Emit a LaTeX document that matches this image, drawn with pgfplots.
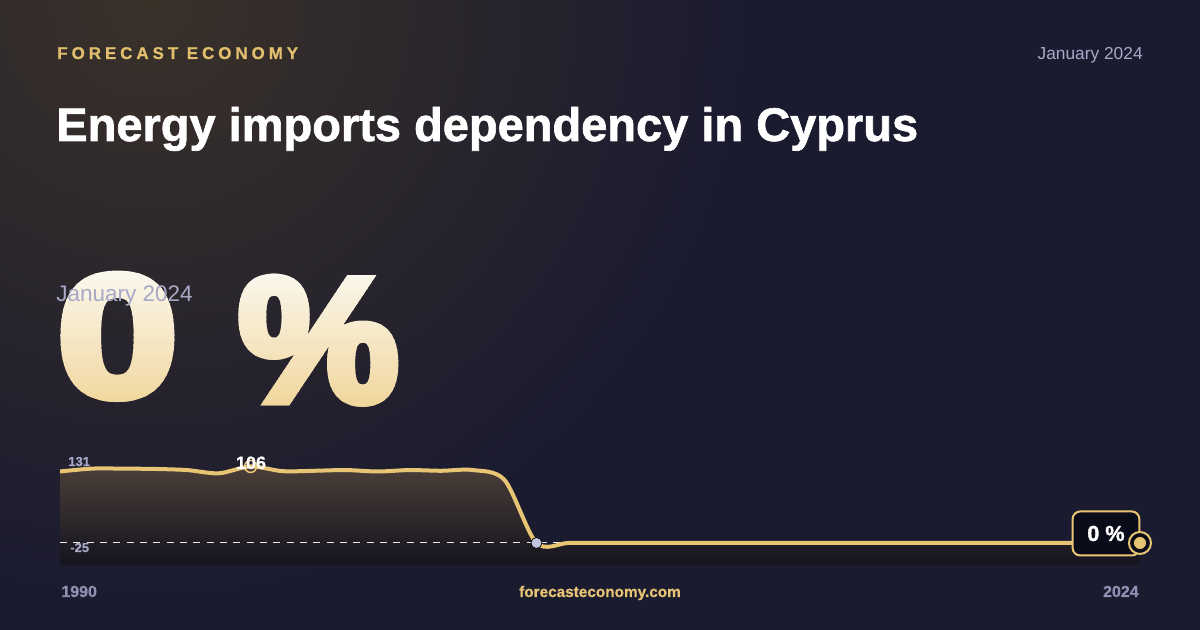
\documentclass[border=0pt]{standalone}
\usepackage{fontspec}
\setmainfont{Liberation Sans}
\newfontfamily\heavy{Liberation Sans}[UprightFont=* Bold, FakeBold=0.6]
\newfontfamily\titlefont{Liberation Sans}[UprightFont=* Bold, FakeBold=1.4]
\newfontfamily\bigfont{Liberation Sans}[UprightFont=* Bold, FakeBold=5]
\usepackage{graphicx}
\usepackage{pgfplots}
\usepackage{pgfplotstable}
\pgfplotsset{compat=1.18}

\definecolor{bg}{HTML}{1B1B30}
\definecolor{glow}{HTML}{3A3129}
\definecolor{gold}{HTML}{E8C574}
\definecolor{hdrgold}{HTML}{E2BF6E}
\definecolor{lbl}{HTML}{A7A9C7}
\definecolor{btm}{HTML}{8E91B2}
\definecolor{fillTop}{HTML}{4A3E38}
\definecolor{fillBot}{HTML}{15141F}
\definecolor{boxbg}{HTML}{0B0C19}
\definecolor{markgray}{HTML}{C0C4DC}
\definecolor{zTop}{HTML}{FCFAF5}
\definecolor{zBot}{HTML}{F0D69B}

% energy imports dependency, %
\pgfplotstableread{
year dep
1990 99
1991 103
1992 103
1993 102.5
1994 101
1995 96.5
1996 106
1997 99.5
1998 100
1999 101
2000 99
2001 101
2002 100
2003 101
2004 87
2005 0
2006 0
2007 0
2008 0
2009 0
2010 0
2011 0
2012 0
2013 0
2014 0
2015 0
2016 0
2017 0
2018 0
2019 0
2020 0
2021 0
2022 0
2023 0
2024 0
}\cyprus

\begin{document}
\begin{tikzpicture}[x=0.6pt,y=0.6pt]
\useasboundingbox (0,0) rectangle (1200,630);
\fill[bg] (0,0) rectangle (1200,630);
\begin{scope}
  \clip (0,0) rectangle (1200,630);
  \shade[inner color=glow, outer color=bg] (-450,30) rectangle (750,1230);
\end{scope}

% header
\node[anchor=base west, inner sep=0, text=hdrgold,
      font=\heavy\fontsize{10.2pt}{10.2pt}\selectfont\addfontfeatures{LetterSpace=23}]
  at (57,571) {FORECAST ECONOMY};
\node[anchor=base east, inner sep=0, text=lbl, font=\fontsize{10.4pt}{10.4pt}\selectfont]
  at (1143,570) {January 2024};
\node[anchor=base west, inner sep=0, text=white, font=\titlefont\fontsize{28.2pt}{28.2pt}\selectfont]
  at (56,489) {Energy imports dependency in Cyprus};

% big value with a banded vertical gradient
\foreach \i in {0,...,29} {
  \pgfmathsetmacro\t{\i*100/29}
  \begin{scope}
    \clip (0,{372-\i*5.1}) rectangle (1200,{372-(\i+1)*5.1-0.6});
    \node[anchor=base west, inner sep=0, text=zBot!\t!zTop,
          font=\bigfont\fontsize{104pt}{104pt}\selectfont] at (57,234) {\scalebox{1.25}[1]{0}};
    \node[anchor=base west, inner sep=0, text=zBot!\t!zTop,
          font=\bigfont\fontsize{106pt}{106pt}\selectfont] at (238,229) {\scalebox{1.02}[1]{\%}};
  \end{scope}
}
\node[anchor=base west, inner sep=0, text=lbl, font=\fontsize{13.5pt}{13.5pt}\selectfont]
  at (56,328) {January 2024};

\begin{axis}[
    at={(36pt,39pt)}, anchor=south west,
    scale only axis, width=648pt, height=69.96pt,
    hide axis, clip=false,
    xmin=1990, xmax=2024, ymin=-30.5, ymax=131,
  ]
  \addplot[draw=none, top color=fillTop, bottom color=fillBot, smooth]
    table[x=year, y=dep] {\cyprus}
    -- (axis cs:2024,-30.5) -- (axis cs:1990,-30.5) -- cycle;
  \addplot[white!90!bg, line width=0.6pt, dash pattern=on 4.2pt off 3.8pt]
    coordinates {(1990,0) (2024,0)};
  \addplot[gold, line width=2.4pt, smooth] table[x=year, y=dep] {\cyprus};
  \addplot[only marks, mark=o, mark size=3.6pt, mark options={draw=gold, line width=0.9pt}]
    coordinates {(1996,106)};
  \addplot[only marks, mark=*, mark size=3.3pt, mark options={fill=markgray, draw=none}]
    coordinates {(2005,0)};
  \node[draw=gold, line width=1.2pt, fill=boxbg, rounded corners=4.5pt,
        minimum width=40pt, minimum height=26.4pt, inner sep=0, text=white,
        font=\titlefont\fontsize{13pt}{13pt}\selectfont]
    at ([xshift=-20.4pt, yshift=5.7pt]axis cs:2024,0) {0 \%};
  \addplot[only marks, mark=*, mark size=6.6pt, mark options={draw=gold, fill=boxbg, line width=1.2pt}]
    coordinates {(2024,0)};
  \addplot[only marks, mark=*, mark size=3.9pt, mark options={fill=gold, draw=none}]
    coordinates {(2024,0)};
\end{axis}

% chart labels
\node[anchor=base west, inner sep=0, text=lbl, font=\heavy\fontsize{7.8pt}{7.8pt}\selectfont] at (68,164) {131};
\node[anchor=base west, inner sep=0, text=lbl, font=\heavy\fontsize{7.8pt}{7.8pt}\selectfont] at (70,78) {-25};
\node[anchor=base, inner sep=0, text=white, font=\heavy\fontsize{10.8pt}{10.8pt}\selectfont] at (251,161) {106};

% footer
\node[anchor=base west, inner sep=0, text=btm, font=\heavy\fontsize{9.6pt}{9.6pt}\selectfont] at (61,33) {1990};
\node[anchor=base east, inner sep=0, text=btm, font=\heavy\fontsize{9.6pt}{9.6pt}\selectfont] at (1139,33) {2024};
\node[anchor=base, inner sep=0, text=gold, font=\heavy\fontsize{9.2pt}{9.2pt}\selectfont] at (600,33) {forecasteconomy.com};
\end{tikzpicture}
\end{document}
